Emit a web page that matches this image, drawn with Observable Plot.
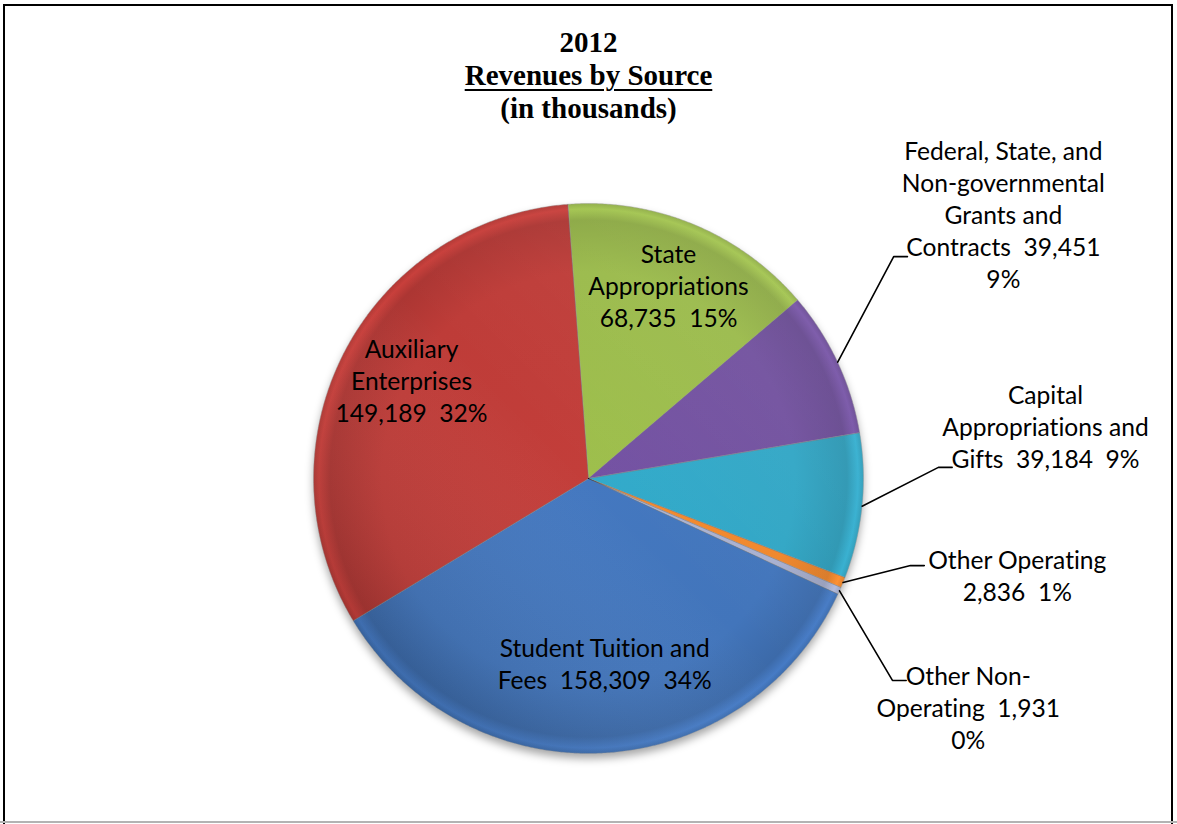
<!DOCTYPE html>
<html><head><meta charset="utf-8">
<script src="https://cdn.jsdelivr.net/npm/d3@7"></script>
<script src="https://cdn.jsdelivr.net/npm/@observablehq/plot@0.6"></script>
<style>
html,body{margin:0;padding:0;background:#fff;overflow:hidden;}
#page{position:relative;width:1177px;height:824px;overflow:hidden;background:#fff;}
#frame{position:absolute;left:3px;top:4px;width:1166px;height:900px;border:2px solid #000;}
#bottomline{position:absolute;left:0;top:821px;width:1177px;height:2px;background:#b3b3b3;}
#title{position:absolute;left:0;top:26px;width:1177px;text-align:center;font:bold 29px "Liberation Serif","Times New Roman",serif;line-height:33px;color:#000;z-index:2;}
#title u{text-decoration-thickness:2px;text-underline-offset:4px;}
#chart{position:absolute;left:0;top:0;}
#chart text{font-variant-ligatures:none;}
</style></head><body>
<div id="page"><div id="frame"></div><div id="chart"></div>
<div id="title">2012<br><u>Revenues by Source</u><br>(in thousands)</div>
<div id="bottomline"></div></div>
<script>
// ---- data ----
const categories = ["State Appropriations", "Federal, State, and Non-governmental Grants and Contracts", "Capital Appropriations and Gifts", "Other Operating", "Other Non-Operating", "Student Tuition and Fees", "Auxiliary Enterprises"];
const values = [68735, 39451, 39184, 2836, 1931, 158309, 149189];
const labelLines = [
  ["State", "Appropriations", "{v}\u00a0 {p}"],
  ["Federal, State, and", "Non-governmental", "Grants and", "Contracts\u00a0 {v}", "{p}"],
  ["Capital", "Appropriations and", "Gifts\u00a0 {v}\u00a0 {p}"],
  ["Other Operating", "{v}\u00a0 {p}"],
  ["Other Non-", "Operating\u00a0 {v}", "{p}"],
  ["Student Tuition and", "Fees\u00a0 {v}\u00a0 {p}"],
  ["Auxiliary", "Enterprises", "{v}\u00a0 {p}"]
];
const colors = ["#9ABA4A", "#71509E", "#31A6C5", "#F0872C", "#A8B0D0", "#4275BB", "#BE3C38"];

// ---- layout (polar, in pie-radius units, relative to each slice's mid angle) ----
const startAngleDeg = -4.3;
const labelRadius = [0.763, 1.789, 1.673, 1.598, 1.611, 0.672, 0.737];
const labelAngleShift = [-0.2, -7.5, -12.4, -9.6, 6.9, -1.9, 1.9];
const leaderRadius = [null, 1.372, 1.273, 1.213, 1.327, null, null];
const leaderAngleShift = [null, -11.0, -7.6, -7.1, 9.5, null, null];

const W = 1177, H = 824, CX = 588, CY = 478, R = 275;
const FS = 24.6;
const rad = Math.PI / 180;
const total = d3.sum(values);
const fmt = d3.format(",");
const arcs = d3.pie().sort(null).startAngle(startAngleDeg * rad).endAngle(startAngleDeg * rad + 2 * Math.PI)(values);
const polar = (a, r) => ({x: r * Math.sin(a), y: r * Math.cos(a)});

const slices = arcs.map((a, i) => {
  const n = Math.max(2, Math.ceil((a.endAngle - a.startAngle) / (0.4 * rad)));
  const pts = [{x: 0, y: 0}];
  for (let k = 0; k <= n; k++) pts.push(polar(a.startAngle + (a.endAngle - a.startAngle) * k / n, 1));
  pts.push({x: 0, y: 0});
  return {name: categories[i], points: pts, mid: (a.startAngle + a.endAngle) / 2};
});
const allPoints = slices.flatMap(s => s.points.map(p => ({...p, name: s.name})));

const labels = slices.map((s, i) => {
  const p = polar(s.mid + labelAngleShift[i] * rad, labelRadius[i]);
  const pct = Math.round(values[i] / total * 100) + "%";
  const text = labelLines[i].map(l => l.replace("{v}", fmt(values[i])).replace("{p}", pct)).join("\n");
  return {...p, text, name: s.name};
});

const leaders = [];
slices.forEach((s, i) => {
  if (leaderRadius[i] == null) return;
  const e = polar(s.mid, 1);
  const b = polar(s.mid + leaderAngleShift[i] * rad, leaderRadius[i]);
  leaders.push({...e, name: s.name}, {...b, name: s.name}, {x: b.x + 0.05, y: b.y, name: s.name});
});

const defsMark = (index, scales) => {
  const cx = typeof scales?.x === "function" ? scales.x(0) : CX;
  const cy = typeof scales?.y === "function" ? scales.y(0) : CY;
  const r = typeof scales?.x === "function" ? scales.x(1) - scales.x(0) : R;
  const defs = d3.create("svg:defs");
  colors.forEach((c, i) => {
    const base = d3.color(c);
    const g = defs.append("radialGradient").attr("id", `sg${i}`).attr("gradientUnits", "userSpaceOnUse")
      .attr("cx", cx).attr("cy", cy).attr("r", r);
    [[0, base.brighter(0.08)], [0.75, base], [0.94, base.darker(0.28)], [0.98, base.brighter(0.15)], [1, base.darker(0.2)]]
      .forEach(([o, col]) => g.append("stop").attr("offset", o).attr("stop-color", col.formatHex()));
  });
  const lg = defs.append("linearGradient").attr("id", "shade").attr("gradientUnits", "userSpaceOnUse")
    .attr("x1", cx + 0.7 * r).attr("y1", cy - 0.7 * r).attr("x2", cx - 0.7 * r).attr("y2", cy + 0.7 * r);
  lg.append("stop").attr("offset", 0).attr("stop-color", "#fff").attr("stop-opacity", 0.06);
  lg.append("stop").attr("offset", 0.5).attr("stop-color", "#fff").attr("stop-opacity", 0);
  lg.append("stop").attr("offset", 1).attr("stop-color", "#000").attr("stop-opacity", 0.12);
  return defs.node();
};

const chart = Plot.plot({
  width: W, height: H, margin: 0,
  style: {background: "transparent", overflow: "visible"},
  x: {domain: [-CX / R, (W - CX) / R], range: [0, W], axis: null},
  y: {domain: [-(H - CY) / R, CY / R], range: [H, 0], axis: null},
  marks: [
    defsMark,
    Plot.line(allPoints, {x: "x", y: "y", z: "name", fill: "black", fillOpacity: 0.35, stroke: "none", dy: 5}),
    ...slices.map((s, i) => Plot.line(s.points, {x: "x", y: "y", fill: `url(#sg${i})`, stroke: "rgba(255,255,255,0.3)", strokeWidth: 1})),
    ...slices.map((s, i) => Plot.line(s.points, {x: "x", y: "y", fill: "url(#shade)", stroke: "rgba(0,0,0,0.2)", strokeWidth: 0.8})),
    Plot.line(leaders, {x: "x", y: "y", z: "name", stroke: "black", strokeWidth: 1.6}),
    Plot.text(labels, {x: "x", y: "y", text: "text", fontSize: FS, fontFamily: "Lato, 'Open Sans', sans-serif", lineHeight: 32 / FS, fill: "black", textAnchor: "middle", lineAnchor: "middle"})
  ]
});
chart.querySelectorAll('g[fill-opacity="0.35"]').forEach(g => g.style.filter = "blur(4px)");
document.getElementById("chart").appendChild(chart);
</script>
</body></html>
